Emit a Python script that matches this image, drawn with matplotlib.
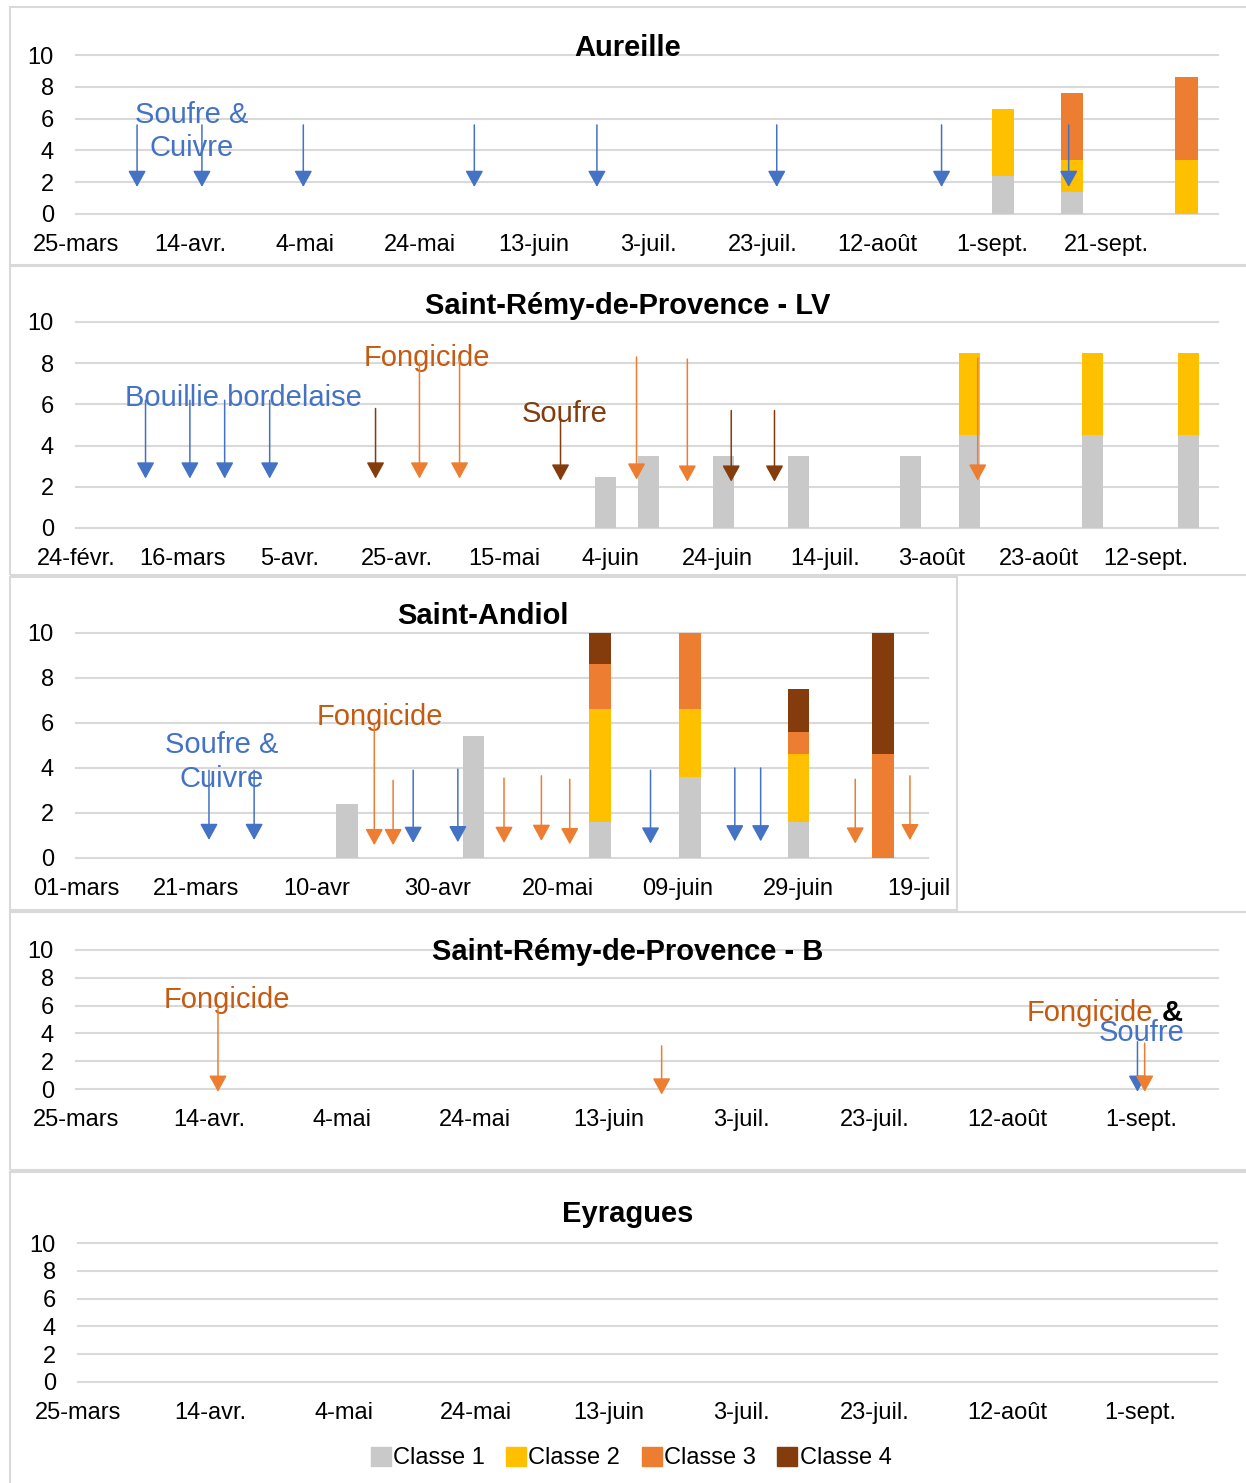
import numpy as np
import matplotlib
matplotlib.use('Agg')
import matplotlib.pyplot as plt
import matplotlib.dates as mdates
from matplotlib.patches import Rectangle

plt.rcParams['font.family'] = ['Liberation Sans', 'DejaVu Sans']

W, H = 1246, 1483

class_names = ['Classe 1', 'Classe 2', 'Classe 3', 'Classe 4']
class_colors = ['#C9C9C9', '#FFC000', '#ED7D31', '#843C0C']
arrow_colors = {'bleu': '#4472C4', 'orange': '#ED7D31', 'brun': '#843C0C'}
txt_blue, txt_orange, txt_brown = '#4472C4', '#C55A11', '#843C0C'

# ---- Aureille
aur_start = '2021-03-25'
aur_ticks = ['25-mars', '14-avr.', '4-mai', '24-mai', '13-juin', '3-juil.',
             '23-juil.', '12-août', '1-sept.', '21-sept.']
aur_bar_dates = ['2021-09-03', '2021-09-15', '2021-10-05']
aur_c1 = [2.4, 1.4, 0.0]
aur_c2 = [4.2, 2.0, 3.4]
aur_c3 = [0.0, 4.2, 5.2]
aur_c4 = [0.0, 0.0, 0.0]
aur_arr_dates = ['2021-04-04 16:00', '2021-04-16', '2021-05-03 17:00',
                 '2021-06-02 14:00', '2021-06-24', '2021-07-25 10:00',
                 '2021-08-23 05:00', '2021-09-14 10:00']
aur_arr_top = [5.6, 5.6, 5.6, 5.6, 5.6, 5.6, 5.6, 5.6]
aur_arr_tip = [1.7, 1.7, 1.7, 1.7, 1.7, 1.7, 1.7, 1.7]
aur_arr_kind = ['bleu'] * 8

# ---- Saint-Rémy-de-Provence - LV
lv_start = '2021-02-24'
lv_ticks = ['24-févr.', '16-mars', '5-avr.', '25-avr.', '15-mai', '4-juin',
            '24-juin', '14-juil.', '3-août', '23-août', '12-sept.']
lv_bar_dates = ['2021-06-03', '2021-06-11', '2021-06-25', '2021-07-09',
                '2021-07-30', '2021-08-10', '2021-09-02', '2021-09-20']
lv_c1 = [2.5, 3.5, 3.5, 3.5, 3.5, 4.5, 4.5, 4.5]
lv_c2 = [0.0, 0.0, 0.0, 0.0, 0.0, 4.0, 4.0, 4.0]
lv_c3 = [0.0] * 8
lv_c4 = [0.0] * 8
lv_arr_dates = ['2021-03-09', '2021-03-17 07:00', '2021-03-23 19:00',
                '2021-04-01 05:00', '2021-04-21', '2021-04-29 05:00',
                '2021-05-06 17:00', '2021-05-25 14:00', '2021-06-08 19:00',
                '2021-06-18 07:00', '2021-06-26 12:00', '2021-07-04 14:00',
                '2021-08-11 14:00']
lv_arr_top = [6.2, 6.2, 6.2, 6.2, 5.8, 8.0, 8.2, 5.3, 8.3, 8.2, 5.7, 5.7, 8.25]
lv_arr_tip = [2.4, 2.4, 2.4, 2.4, 2.4, 2.4, 2.4, 2.3, 2.35, 2.25, 2.25, 2.25, 2.3]
lv_arr_kind = ['bleu', 'bleu', 'bleu', 'bleu', 'brun', 'orange', 'orange',
               'brun', 'orange', 'orange', 'brun', 'brun', 'orange']

# ---- Saint-Andiol
sa_start = '2021-03-01'
sa_ticks = ['01-mars', '21-mars', '10-avr', '30-avr', '20-mai', '09-juin',
            '29-juin', '19-juil']
sa_bar_dates = ['2021-04-15', '2021-05-06', '2021-05-27', '2021-06-11',
                '2021-06-29', '2021-07-13']
sa_c1 = [2.4, 5.4, 1.6, 3.6, 1.6, 0.0]
sa_c2 = [0.0, 0.0, 5.0, 3.0, 3.0, 0.0]
sa_c3 = [0.0, 0.0, 2.0, 3.4, 1.0, 4.6]
sa_c4 = [0.0, 0.0, 1.4, 0.0, 1.9, 5.4]
sa_arr_dates = ['2021-03-23 02:00', '2021-03-30 14:00', '2021-04-19 13:00',
                '2021-04-22 16:00', '2021-04-26', '2021-05-03 10:00',
                '2021-05-11 02:00', '2021-05-17 07:00', '2021-05-22',
                '2021-06-04 10:00', '2021-06-18 10:00', '2021-06-22 17:00',
                '2021-07-08 10:00', '2021-07-17 12:00']
sa_arr_top = [3.9, 3.9, 5.9, 3.45, 3.9, 3.95, 3.55, 3.65, 3.5, 3.9, 4.0, 4.0,
              3.5, 3.65]
sa_arr_tip = [0.8, 0.8, 0.57, 0.57, 0.67, 0.7, 0.67, 0.76, 0.61, 0.64, 0.74,
              0.74, 0.64, 0.79]
sa_arr_kind = ['bleu', 'bleu', 'orange', 'orange', 'bleu', 'bleu', 'orange',
               'orange', 'orange', 'bleu', 'bleu', 'bleu', 'orange', 'orange']

# ---- Saint-Rémy-de-Provence - B
b_start = '2021-03-25'
b_ticks = ['25-mars', '14-avr.', '4-mai', '24-mai', '13-juin', '3-juil.',
           '23-juil.', '12-août', '1-sept.']
b_arr_dates = ['2021-04-15 08:00', '2021-06-21', '2021-08-31 12:00',
               '2021-09-01 14:00']
b_arr_top = [5.8, 3.1, 3.4, 3.3]
b_arr_tip = [-0.2, -0.4, -0.2, -0.2]
b_arr_kind = ['orange', 'orange', 'bleu', 'orange']

# ---- Eyragues (aucune donnée)
ey_start = '2021-03-25'
ey_ticks = b_ticks


fig = plt.figure(figsize=(W / 100, H / 100), dpi=100)


def px(x, y):
    return x / W, 1 - y / H


def panel(l, r, y0, y10, start, ticks, span, bar_dates=None, stacks=None,
          bar_w=3.7, arr_dates=(), arr_top=(), arr_tip=(), arr_kind=()):
    ax = fig.add_axes([l / W, 1 - y0 / H, (r - l) / W, (y0 - y10) / H])
    t0 = mdates.datestr2num(start)
    ax.set_xlim(t0, t0 + span)
    ax.set_ylim(0, 10)
    ax.set_yticks(range(0, 11, 2))
    ax.set_xticks(t0 + 20 * np.arange(len(ticks)))
    ax.set_xticklabels(ticks)
    ax.tick_params(length=0, labelsize=17)
    ax.tick_params(axis='y', pad=16)
    ax.tick_params(axis='x', pad=14.5)
    ax.grid(axis='y', color='#D9D9D9', lw=1.5)
    for gl in ax.get_ygridlines():
        gl.set_clip_on(False)
    ax.set_axisbelow(True)
    for s in ax.spines.values():
        s.set_visible(False)
    ax.patch.set_alpha(0)
    if bar_dates is not None:
        x = mdates.datestr2num(bar_dates)
        bottom = np.zeros(len(x))
        for vals, c in zip(stacks, class_colors):
            vals = np.array(vals)
            ax.bar(x, vals, bar_w, bottom=bottom, color=c, zorder=2)
            bottom += vals
    for d, top, tip, k in zip(arr_dates, arr_top, arr_tip, arr_kind):
        xd = mdates.datestr2num(d)
        ax.annotate('', xy=(xd, tip), xytext=(xd, top),
                    arrowprops=dict(arrowstyle='-|>,head_length=1.0,head_width=0.55',
                                    color=arrow_colors[k], lw=1.1,
                                    shrinkA=0, shrinkB=0, mutation_scale=10),
                    annotation_clip=False, zorder=5)
    return ax


def label(ax, x, y, s, color, weight='normal', size=21, ha='center'):
    ax.text(*px(x, y + 3), s, transform=fig.transFigure, color=color, fontsize=size,
            fontweight=weight, ha=ha, va='center', zorder=3)


def title(x, y, s):
    fig.text(*px(x, y + 3), s, fontsize=21, fontweight='bold', ha='center', va='center')


# chart frames
for (x0, y0, x1, y1) in [(10, 7, 1252, 265), (10, 266, 1252, 575),
                         (10, 577, 957, 910), (10, 912, 1252, 1170),
                         (10, 1172, 1252, 1490)]:
    fig.add_artist(Rectangle(px(x0, y1), (x1 - x0) / W, (y1 - y0) / H,
                             transform=fig.transFigure, fill=False,
                             ec='#D9D9D9', lw=1.5))

ax1 = panel(76, 1218, 214, 55, aur_start, aur_ticks, 199.5, aur_bar_dates,
            [aur_c1, aur_c2, aur_c3, aur_c4], 3.85,
            aur_arr_dates, aur_arr_top, aur_arr_tip, aur_arr_kind)
title(628, 45, 'Aureille')
label(ax1, 192, 112, 'Soufre &', txt_blue)
label(ax1, 192, 145, 'Cuivre', txt_blue)

ax2 = panel(76, 1218, 528, 322, lv_start, lv_ticks, 213.5, lv_bar_dates,
            [lv_c1, lv_c2, lv_c3, lv_c4], 3.9,
            lv_arr_dates, lv_arr_top, lv_arr_tip, lv_arr_kind)
title(628, 303, 'Saint-Rémy-de-Provence - LV')
label(ax2, 427, 355, 'Fongicide', txt_orange)
label(ax2, 243, 395, 'Bouillie bordelaise', txt_blue)
label(ax2, 565, 411, 'Soufre', txt_brown)

ax3 = panel(76, 928, 858, 633, sa_start, sa_ticks, 141.5, sa_bar_dates,
            [sa_c1, sa_c2, sa_c3, sa_c4], 3.6,
            sa_arr_dates, sa_arr_top, sa_arr_tip, sa_arr_kind)
title(483, 613, 'Saint-Andiol')
label(ax3, 380, 714, 'Fongicide', txt_orange)
label(ax3, 222, 742, 'Soufre &', txt_blue)
label(ax3, 222, 776, 'Cuivre', txt_blue)

ax4 = panel(76, 1218, 1089, 950, b_start, b_ticks, 171.6,
            arr_dates=b_arr_dates, arr_top=b_arr_top, arr_tip=b_arr_tip, arr_kind=b_arr_kind)
title(628, 949, 'Saint-Rémy-de-Provence - B')
label(ax4, 227, 997, 'Fongicide', txt_orange)
label(ax4, 1153, 1010, 'Fongicide', txt_orange, ha='right')
label(ax4, 1162, 1010, '&', 'black', weight='bold', ha='left')
label(ax4, 1142, 1030, 'Soufre', txt_blue)

ax5 = panel(78, 1217, 1382, 1243, ey_start, ey_ticks, 171.6)
title(628, 1211, 'Eyragues')

handles = [Rectangle((0, 0), 1, 1, color=c) for c in class_colors]
fig.legend(handles, class_names, ncol=4, loc='center',
           bbox_to_anchor=px(631, 1458), frameon=False, fontsize=17,
           handlelength=0.85, handleheight=0.85, handletextpad=0.1,
           columnspacing=0.9, borderaxespad=0, borderpad=0)

fig.savefig('out.png', dpi=100)
